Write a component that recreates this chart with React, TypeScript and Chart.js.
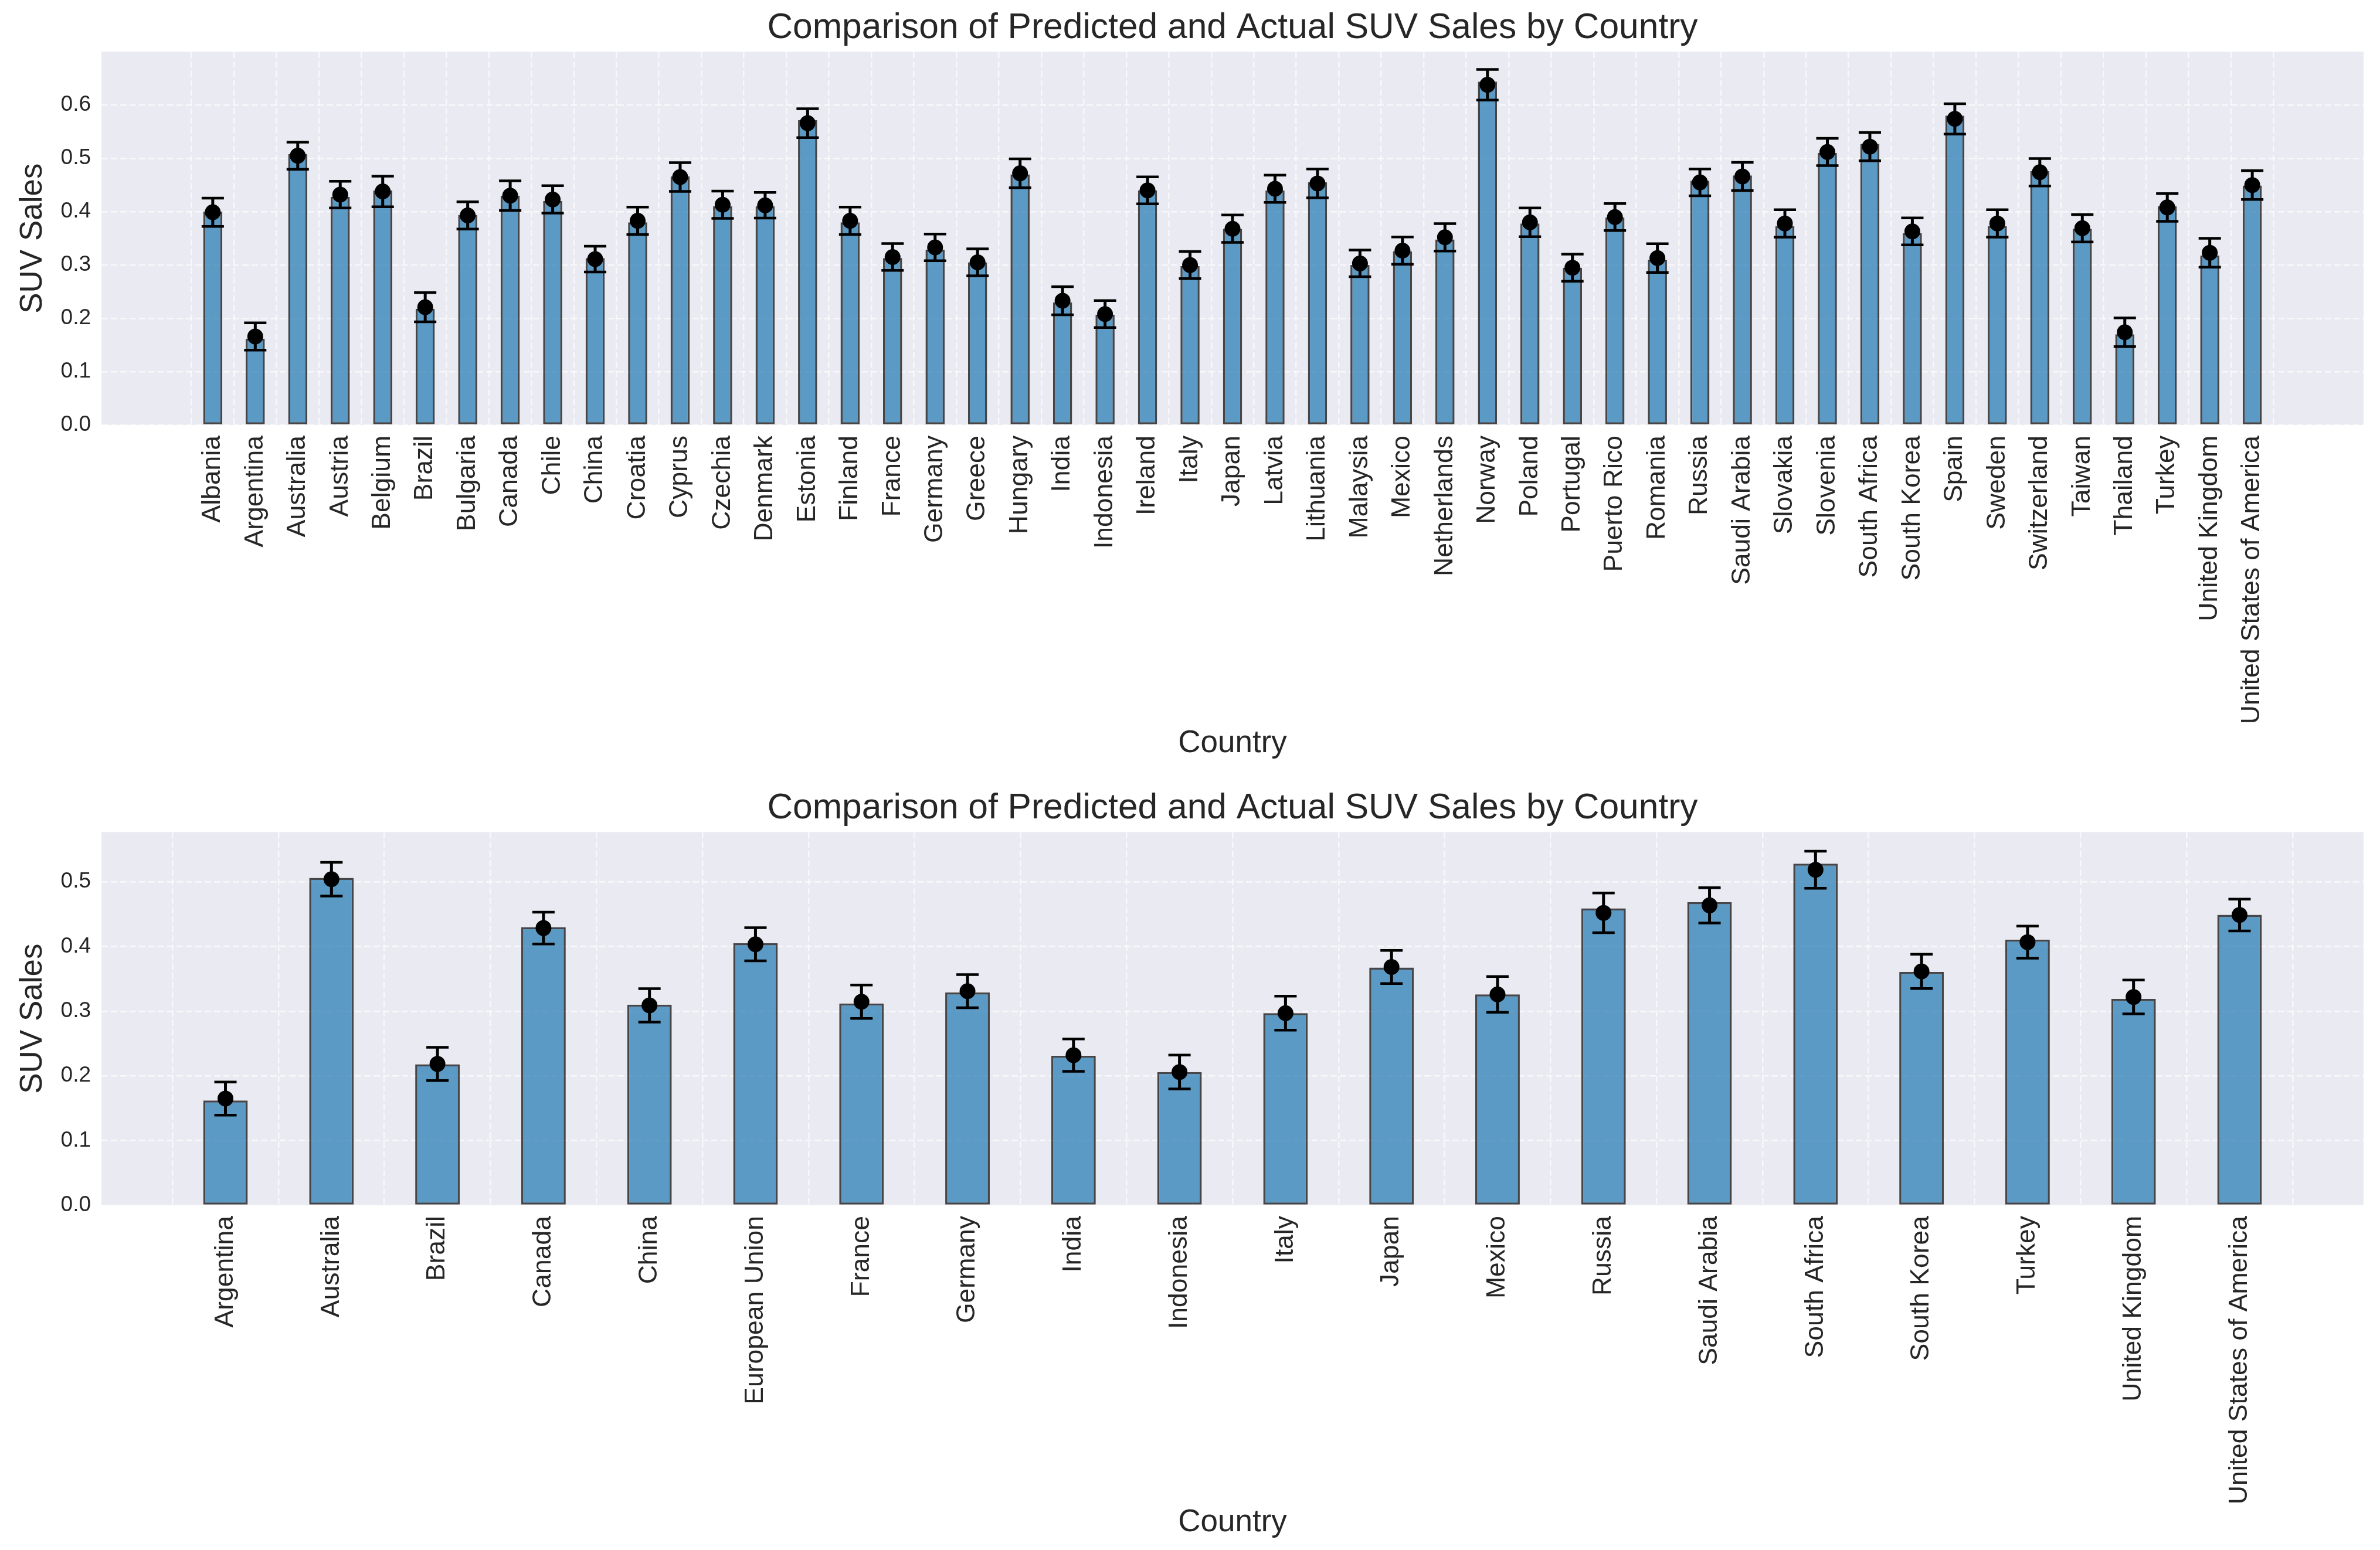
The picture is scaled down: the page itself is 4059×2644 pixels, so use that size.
import React, { useEffect, useRef } from 'react';
import { Chart, registerables } from 'chart.js';

Chart.register(...registerables);

const PAGE_W = 4059;
const PANEL_H = 1322;
const TEXT = '#262626';
const TITLE = 'Comparison of Predicted and Actual SUV Sales by Country';

// Top panel: every country
const allCountries = [
  'Albania', 'Argentina', 'Australia', 'Austria', 'Belgium', 'Brazil', 'Bulgaria', 'Canada', 'Chile', 'China',
  'Croatia', 'Cyprus', 'Czechia', 'Denmark', 'Estonia', 'Finland', 'France', 'Germany', 'Greece', 'Hungary',
  'India', 'Indonesia', 'Ireland', 'Italy', 'Japan', 'Latvia', 'Lithuania', 'Malaysia', 'Mexico', 'Netherlands',
  'Norway', 'Poland', 'Portugal', 'Puerto Rico', 'Romania', 'Russia', 'Saudi Arabia', 'Slovakia', 'Slovenia',
  'South Africa', 'South Korea', 'Spain', 'Sweden', 'Switzerland', 'Taiwan', 'Thailand', 'Turkey',
  'United Kingdom', 'United States of America',
];
const allPredicted = [
  0.400, 0.162, 0.508, 0.428, 0.440, 0.218, 0.394, 0.430, 0.420, 0.313,
  0.380, 0.466, 0.410, 0.410, 0.572, 0.380, 0.313, 0.329, 0.305, 0.470,
  0.230, 0.207, 0.440, 0.298, 0.368, 0.440, 0.455, 0.300, 0.326, 0.348,
  0.644, 0.378, 0.295, 0.389, 0.310, 0.458, 0.468, 0.373, 0.510,
  0.527, 0.360, 0.580, 0.373, 0.476, 0.368, 0.170, 0.410,
  0.318, 0.449,
];
const allActual = [
  0.399, 0.166, 0.505, 0.432, 0.438, 0.221, 0.393, 0.430, 0.423, 0.311,
  0.383, 0.465, 0.413, 0.412, 0.566, 0.383, 0.315, 0.333, 0.305, 0.472,
  0.233, 0.208, 0.440, 0.300, 0.368, 0.443, 0.453, 0.303, 0.327, 0.352,
  0.638, 0.380, 0.295, 0.390, 0.313, 0.455, 0.466, 0.378, 0.512,
  0.522, 0.363, 0.574, 0.378, 0.474, 0.369, 0.174, 0.408,
  0.323, 0.450,
];
const allError = [
  0.0265, 0.0255, 0.0255, 0.025, 0.0287, 0.0274, 0.0255, 0.0277, 0.0257, 0.0242,
  0.0257, 0.027, 0.0255, 0.024, 0.027, 0.0257, 0.0252, 0.025, 0.0252, 0.027,
  0.0264, 0.0252, 0.0252, 0.0255, 0.0257, 0.0255, 0.027, 0.025, 0.0255, 0.0257,
  0.0287, 0.027, 0.0255, 0.0252, 0.027, 0.0252, 0.0264, 0.0257, 0.0255,
  0.0264, 0.0252, 0.0284, 0.0257, 0.0257, 0.0257, 0.027, 0.026,
  0.027, 0.027,
];
const allYTicks = [0, 0.1, 0.2, 0.3, 0.4, 0.5, 0.6];

// Bottom panel: major markets
const majorCountries = [
  'Argentina', 'Australia', 'Brazil', 'Canada', 'China', 'European Union', 'France', 'Germany', 'India',
  'Indonesia', 'Italy', 'Japan', 'Mexico', 'Russia', 'Saudi Arabia', 'South Africa', 'South Korea', 'Turkey',
  'United Kingdom', 'United States of America',
];
const majorPredicted = [
  0.162, 0.506, 0.218, 0.430, 0.310, 0.405, 0.312, 0.329, 0.231,
  0.206, 0.297, 0.3675, 0.326, 0.459, 0.4685, 0.528, 0.3607, 0.4107,
  0.319, 0.449,
];
const majorActual = [
  0.165, 0.504, 0.2185, 0.4285, 0.309, 0.4035, 0.3146, 0.331, 0.232,
  0.206, 0.297, 0.3683, 0.326, 0.452, 0.4636, 0.5186, 0.3615, 0.4067,
  0.322, 0.4487,
];
const majorError = [
  0.0256, 0.026, 0.0258, 0.0246, 0.0258, 0.0256, 0.0258, 0.0256, 0.025,
  0.0262, 0.0262, 0.0256, 0.0277, 0.0307, 0.0273, 0.0287, 0.0265, 0.0248,
  0.0262, 0.0246,
];
const majorYTicks = [0, 0.1, 0.2, 0.3, 0.4, 0.5];

interface PanelProps {
  countries: string[];
  predicted: number[];
  actual: number[];
  error: number[];
  yTicks: number[];
  yMax: number;
  barPercentage: number;
  titlePad: { top: number; bottom: number };
  xAxisHeight: number;
  xTitleBottom: number;
}

const plotBackground = {
  id: 'plotBackground',
  beforeDraw(chart: any) {
    const { ctx, chartArea: a } = chart;
    ctx.save();
    ctx.fillStyle = '#EAEAF2';
    ctx.fillRect(a.left, a.top, a.width, a.height);
    ctx.restore();
  },
};

function ComparisonPanel({
  countries, predicted, actual, error, yTicks, yMax, barPercentage, titlePad, xAxisHeight, xTitleBottom,
}: PanelProps) {
  const canvasRef = useRef<HTMLCanvasElement>(null);

  useEffect(() => {
    if (!canvasRef.current) return;

    // same 5% side margin matplotlib adds around 0.4-wide bars
    const n = countries.length;
    const margin = 0.05 * (n - 1 + 0.4) + 0.2;

    const errorBars = {
      id: 'errorBars',
      afterDatasetsDraw(chart: any) {
        const { ctx, scales } = chart;
        ctx.save();
        ctx.strokeStyle = '#000';
        actual.forEach((v, i) => {
          const px = scales.x.getPixelForValue(i);
          const hi = scales.y.getPixelForValue(v + error[i]);
          const lo = scales.y.getPixelForValue(v - error[i]);
          ctx.lineWidth = 5;
          ctx.beginPath();
          ctx.moveTo(px, hi);
          ctx.lineTo(px, lo);
          ctx.stroke();
          ctx.lineWidth = 4.5;
          ctx.beginPath();
          ctx.moveTo(px - 19, hi);
          ctx.lineTo(px + 19, hi);
          ctx.moveTo(px - 19, lo);
          ctx.lineTo(px + 19, lo);
          ctx.stroke();
        });
        ctx.restore();
      },
    };

    const grid = { color: 'rgba(255,255,255,0.65)', lineWidth: 2.5, drawTicks: false };
    const border = { display: false, dash: [11, 5] };

    const chart = new Chart(canvasRef.current, {
      type: 'bar',
      data: {
        datasets: [
          {
            type: 'line',
            label: 'Actual',
            data: actual.map((v, i) => ({ x: i, y: v })),
            showLine: false,
            pointRadius: 13.5,
            pointHoverRadius: 13.5,
            pointBackgroundColor: '#000',
            pointBorderWidth: 0,
            order: 1,
          } as any,
          {
            type: 'bar',
            label: 'Predicted',
            data: predicted.map((v, i) => ({ x: i, y: v })),
            backgroundColor: 'rgba(31,119,180,0.7)',
            borderColor: 'rgba(0,0,0,0.7)',
            borderWidth: 3.5,
            borderSkipped: false,
            barPercentage,
            categoryPercentage: 1,
            order: 2,
          },
        ],
      },
      options: {
        animation: false,
        responsive: false,
        devicePixelRatio: 1,
        layout: { padding: { top: 0, right: 28, bottom: 0, left: 0 } },
        plugins: {
          legend: { display: false },
          tooltip: { enabled: false },
          title: {
            display: true,
            text: TITLE,
            fullSize: false,
            color: TEXT,
            font: { size: 60.5, weight: 'normal' },
            padding: titlePad,
          },
        },
        scales: {
          x: {
            type: 'linear',
            min: -margin,
            max: n - 1 + margin,
            offset: false,
            grid,
            border,
            afterBuildTicks: (s: any) => {
              s.ticks = countries.map((_, i) => ({ value: i }));
            },
            afterFit: (s: any) => {
              s.height = xAxisHeight;
            },
            ticks: {
              autoSkip: false,
              minRotation: 90,
              maxRotation: 90,
              padding: 18,
              color: TEXT,
              font: { size: 44.5 },
              callback: (v: any) => countries[v] ?? '',
            },
            title: {
              display: true,
              text: 'Country',
              color: TEXT,
              font: { size: 53 },
              padding: { top: 0, bottom: xTitleBottom },
            },
          },
          y: {
            min: 0,
            max: yMax,
            grid,
            border,
            afterBuildTicks: (s: any) => {
              s.ticks = yTicks.map((v) => ({ value: v }));
            },
            afterFit: (s: any) => {
              s.width = 173;
            },
            ticks: {
              padding: 18,
              color: TEXT,
              font: { size: 37 },
              callback: (v: any) => Number(v).toFixed(1),
            },
            title: {
              display: true,
              text: 'SUV Sales',
              color: TEXT,
              font: { size: 53 },
              padding: { top: 25, bottom: 0 },
            },
          },
        },
      },
      plugins: [plotBackground, errorBars],
    });

    return () => {
      chart.destroy();
    };
  }, [countries, predicted, actual, error]);

  return <canvas ref={canvasRef} width={PAGE_W} height={PANEL_H} style={{ display: 'block', width: PAGE_W, height: PANEL_H }} />;
}

export default function App() {
  Chart.defaults.font.family = '"Liberation Sans", Arial, sans-serif';

  return (
    <div style={{ position: 'absolute', left: 0, top: 0, width: PAGE_W, height: PANEL_H * 2, background: '#fff' }}>
      <ComparisonPanel
        countries={allCountries}
        predicted={allPredicted}
        actual={allActual}
        error={allError}
        yTicks={allYTicks}
        yMax={0.70}
        barPercentage={0.45}
        titlePad={{ top: 12, bottom: 3.6 }}
        xAxisHeight={597}
        xTitleBottom={22}
      />
      <ComparisonPanel
        countries={majorCountries}
        predicted={majorPredicted}
        actual={majorActual}
        error={majorError}
        yTicks={majorYTicks}
        yMax={0.577}
        barPercentage={0.42}
        titlePad={{ top: 21, bottom: 3.6 }}
        xAxisHeight={588}
        xTitleBottom={15}
      />
    </div>
  );
}
